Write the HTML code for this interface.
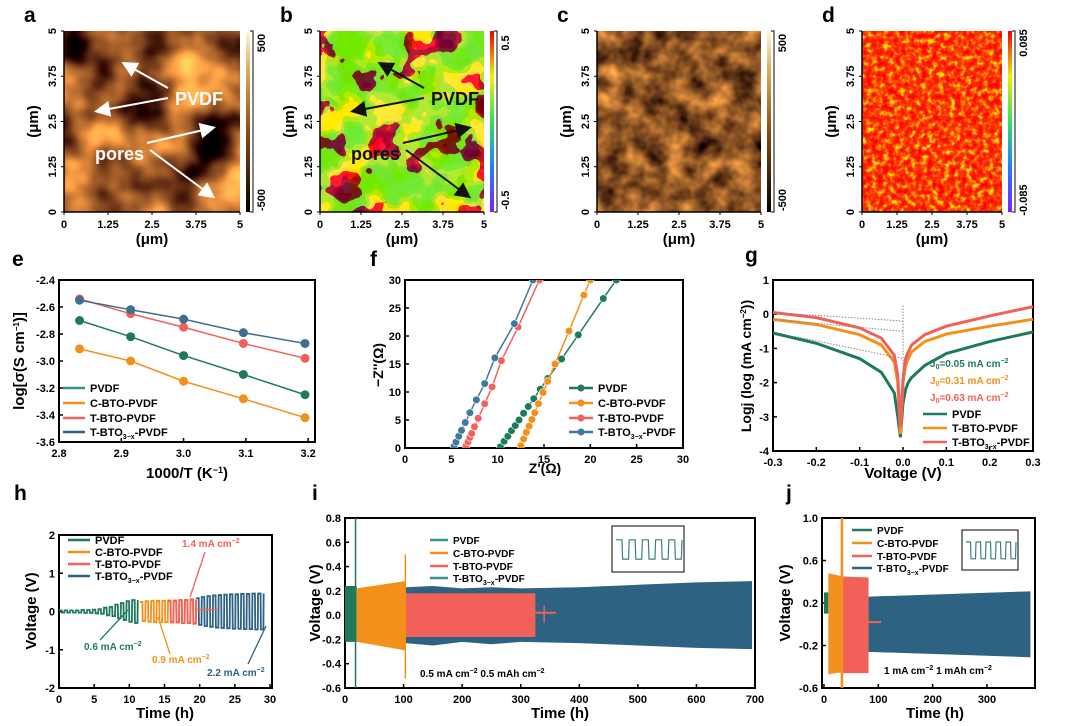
<!DOCTYPE html>
<html><head><meta charset="utf-8"><style>
html,body{margin:0;padding:0;background:#fff}
svg{display:block;font-family:"Liberation Sans",Arial,sans-serif;font-weight:bold}
filter{color-interpolation-filters:sRGB}
</style></head><body>
<svg id="fig" width="1080" height="726" viewBox="0 0 1080 726" xmlns="http://www.w3.org/2000/svg">
<defs>
<linearGradient id="brownBar" x1="0" y1="1" x2="0" y2="0"><stop offset="0" stop-color="#000"/><stop offset="0.45" stop-color="#8a4f10"/><stop offset="0.8" stop-color="#e0b060"/><stop offset="1" stop-color="#fff8e0"/></linearGradient>
<linearGradient id="rainbowBar" x1="0" y1="1" x2="0" y2="0"><stop offset="0" stop-color="#8020ff"/><stop offset="0.25" stop-color="#2080ff"/><stop offset="0.5" stop-color="#30e060"/><stop offset="0.75" stop-color="#f0f000"/><stop offset="1" stop-color="#f00000"/></linearGradient>
<filter id="fa" color-interpolation-filters="sRGB" filterUnits="userSpaceOnUse" x="64" y="31" width="176" height="181"><feTurbulence type="fractalNoise" baseFrequency="0.018" numOctaves="3" seed="3"/><feColorMatrix type="matrix" values="2.2 0 0 0 -0.55  1.6 0 0 0 -0.5  0.7 0 0 0 -0.22  0 0 0 0 1"/></filter>
<filter id="fb" color-interpolation-filters="sRGB" filterUnits="userSpaceOnUse" x="320" y="31" width="164" height="181"><feTurbulence type="fractalNoise" baseFrequency="0.03" numOctaves="3" seed="7"/><feComponentTransfer><feFuncR type="discrete" tableValues="1 1 1 1 0.7 0.5 0.45 0.45 0.45 0.45"/><feFuncG type="discrete" tableValues="0 0 0 0.1 0.9 0.92 0.92 0.92 0.92 0.92"/><feFuncB type="discrete" tableValues="0 0 0 0 0.1 0.2 0.2 0.2 0.2 0.2"/><feFuncA type="discrete" tableValues="1"/></feComponentTransfer></filter>
<filter id="fc" color-interpolation-filters="sRGB" filterUnits="userSpaceOnUse" x="597" y="31" width="164" height="181"><feTurbulence type="fractalNoise" baseFrequency="0.045" numOctaves="3" seed="5"/><feColorMatrix type="matrix" values="1.3 0 0 0 -0.1  0.9 0 0 0 -0.12  0.4 0 0 0 -0.06  0 0 0 0 1"/></filter>
<filter id="fd" color-interpolation-filters="sRGB" filterUnits="userSpaceOnUse" x="862" y="31" width="140" height="181"><feTurbulence type="fractalNoise" baseFrequency="0.18" numOctaves="2" seed="9"/><feComponentTransfer><feFuncR type="discrete" tableValues="0.95 1 1 1 1 1 1 0.95 0.8 0.7"/><feFuncG type="discrete" tableValues="0 0 0 0.08 0.15 0.3 0.55 0.85 0.9 0.9"/><feFuncB type="discrete" tableValues="0 0 0 0 0 0 0.05 0.1 0.2 0.2"/><feFuncA type="discrete" tableValues="1"/></feComponentTransfer></filter>
<marker id="arW" markerWidth="8" markerHeight="8" refX="6" refY="4" orient="auto"><path d="M0,0 L8,4 L0,8 z" fill="#fff"/></marker>
<marker id="arK" markerWidth="8" markerHeight="8" refX="6" refY="4" orient="auto"><path d="M0,0 L8,4 L0,8 z" fill="#111"/></marker>
</defs>
</svg>
<script>
// ---------- data ----------
const eX=[2.833,2.915,3.0,3.096,3.195];
const ePVDF=[-2.70,-2.82,-2.96,-3.10,-3.25];
const eCBTO=[-2.91,-3.00,-3.15,-3.28,-3.42];
const eTBTO=[-2.54,-2.65,-2.75,-2.87,-2.98];
const eTBTOx=[-2.55,-2.62,-2.69,-2.79,-2.87];
const fPVDFx=[10.3,10.7,11.1,11.5,11.9,12.3,12.8,13.3,13.9,14.6,15.4,16.9,18.7,21.4,22.8];
const fPVDFy=[0.2,1.2,2.1,3.1,4.0,5.0,6.2,7.4,8.8,10.5,12.4,15.9,20.2,26.7,30];
const fCBTOx=[12.5,12.8,13.1,13.4,13.7,14.0,14.4,14.9,15.4,16.2,17.7,19.3,20.0];
const fCBTOy=[0.4,1.6,2.8,3.9,5.1,6.3,7.9,9.9,11.9,15.0,20.9,27.3,30];
const fTBTOx=[6.6,6.8,7.0,7.2,7.5,7.9,8.6,9.4,10.4,12.2,14.5];
const fTBTOy=[0.4,1.1,1.9,2.6,3.8,5.3,7.9,10.9,15.6,21.6,30];
const fTBTOxx=[5.3,5.5,5.8,6.1,6.5,7.0,7.7,8.6,9.7,11.8,13.8];
const fTBTOxy=[0.35,1.05,2.1,3.15,4.55,6.3,8.6,11.5,16.1,22.2,30];
const gV=[-0.3,-0.2,-0.1,-0.05,-0.02,-0.012,-0.006,0,0.006,0.012,0.02,0.05,0.1,0.2,0.3];
const gPVDF=[-0.55,-0.85,-1.3,-1.7,-2.3,-3.0,-3.6,-2.6,-2.2,-2.0,-1.85,-1.5,-1.15,-0.8,-0.52];
const gTBTO=[-0.15,-0.3,-0.6,-0.9,-1.4,-2.0,-3.5,-2.0,-1.5,-1.3,-1.1,-0.8,-0.58,-0.35,-0.15];
const gTBTOx=[0.05,-0.1,-0.4,-0.7,-1.2,-1.8,-3.3,-1.9,-1.3,-1.1,-0.9,-0.6,-0.35,-0.05,0.22];
const hPeriod=0.8;
const hPVDFstart=0, hCBTOstart=11.5, hTBTOstart=15.5, hTBTOxstart=19.5;
const hPVDF=[0.03,0.03,0.03,0.03,0.04,0.04,0.05,0.06,0.1,0.12,0.18,0.22,0.27,0.3];
const hCBTO=[0.25,0.27,0.28,0.28,0.28,0.29,0.29,0.3,0.3,0.3];
const hTBTO=[0.27,0.28,0.3,0.3,0.32];
const hTBTOx=[0.35,0.38,0.4,0.42,0.43,0.44,0.45,0.45,0.46,0.46,0.47,0.47];
const iGreenT=[0,20], iGreenUp=[0.24,0.24], iGreenLo=[-0.22,-0.22];
const iOrangeT=[20,103], iOrangeUp=[0.22,0.28], iOrangeLo=[-0.22,-0.29];
const iBlueT=[103,150,200,250,300,400,500,600,695], iBlueUp=[0.23,0.24,0.22,0.23,0.22,0.23,0.25,0.27,0.28], iBlueLo=[-0.23,-0.25,-0.22,-0.24,-0.22,-0.23,-0.25,-0.27,-0.28];
const iRedT=[103,325], iRedUp=[0.18,0.18], iRedLo=[-0.18,-0.18];
const iSpikes=[[18,0.8,-0.6],[103,0.5,-0.52]];
const jGreenT=[0,8], jGreenUp=[0.3,0.3], jGreenLo=[0.1,0.1];
const jOrangeT=[8,35], jOrangeUp=[0.48,0.45], jOrangeLo=[-0.47,-0.45];
const jRedT=[35,82], jRedUp=[0.45,0.44], jRedLo=[-0.46,-0.46];
const jBlueT=[82,380], jBlueUp=[0.26,0.31], jBlueLo=[-0.26,-0.31];
const C={g:'#1f7a5c',o:'#f39019',r:'#f2605a',b:'#2e6283',gl:'#3f8f8f'};
// ---------- helpers ----------
const NS='http://www.w3.org/2000/svg';const svg=document.getElementById('fig');
function mk(tag,at,par){const e=document.createElementNS(NS,tag);for(const k in at)e.setAttribute(k,at[k]);(par||svg).appendChild(e);return e;}
function txt(s,x,y,sz,at){const e=mk('text',Object.assign({x:x,y:y,'font-size':sz},at||{}));e.innerHTML=s;return e;}
function lin(d0,d1,r0,r1){return v=>r0+(v-d0)*(r1-r0)/(d1-d0);}
function axes(P,xt,yt,xl,yl,name){
  const b=mk('rect',{x:P.x0,y:P.y0,width:P.x1-P.x0,height:P.y1-P.y0,fill:'none',stroke:'#000','stroke-width':2});
  
  
  xt.forEach((v,i)=>{const X=P.sx(v);mk('line',{x1:X,x2:X,y1:P.y1,y2:P.y1-4,stroke:'#000','stroke-width':1.5});
    const t=txt(xl[i],X,P.y1+15,11,{'text-anchor':'middle'});
    
    });
  yt.forEach((v,i)=>{const Y=P.sy(v);mk('line',{x1:P.x0,x2:P.x0+4,y1:Y,y2:Y,stroke:'#000','stroke-width':1.5});
    const t=txt(yl[i],P.x0-4,Y+4,11,{'text-anchor':'end'});
    
    });
}
function clip(id,P){const cp=mk('clipPath',{id:id});mk('rect',{x:P.x0,y:P.y0,width:P.x1-P.x0,height:P.y1-P.y0},cp);return 'url(#'+id+')';}
function poly(xs,ys,P,col,w,par,extra){return mk('polyline',Object.assign({points:xs.map((x,i)=>P.sx(x)+','+P.sy(ys[i])).join(' '),fill:'none',stroke:col,'stroke-width':w},extra||{}),par);}
function band(ts,up,lo,P,col,par){const pts=ts.map((t,i)=>P.sx(t)+','+P.sy(up[i])).concat(ts.map((t,i)=>P.sx(t)+','+P.sy(lo[i])).reverse());return mk('polygon',{points:pts.join(' '),fill:col},par);}
function legend(items,x,ys,len,sz,withDot){items.forEach((it,i)=>{const y=ys[i];
  const l=mk('line',{x1:x,x2:x+len,y1:y,y2:y,stroke:it[1],'stroke-width':2.5});
  
  
  if(withDot)mk('circle',{cx:x+len/2,cy:y,r:3.5,fill:it[1]});
  const t=txt(it[0],x+len+5,y+4,sz);
  
  });}
function rotTxt(s,x,y,sz,name){const t=txt(s,x,y,sz,{'text-anchor':'middle',transform:'rotate(-90 '+x+' '+y+')'});return t;}
function label(s,x,y,name){const t=txt(s,x,y,21);}
const BTX='T-BTO<tspan font-size="7" dy="3">3−x</tspan><tspan dy="-3">-PVDF</tspan>';
// ---------- AFM panels ----------
const afm=[['a',64,176,'fa','brownBar','500','-500'],['b',320,164,'fb','rainbowBar','0.5','-0.5'],['c',597,164,'fc','brownBar','500','-500'],['d',862,140,'fd','rainbowBar','0.085','-0.085']];
afm.forEach((p,k)=>{const x0=p[1],w=p[2],y0=31,h=181;
  const im=mk('rect',{x:x0,y:y0,width:w,height:h,fill:'#888',filter:'url(#'+p[3]+')'});
  
  
  const cb=mk('rect',{x:x0+w+6,y:y0,width:4,height:h,fill:'url(#'+p[4]+')'});
  
  
  mk('path',{d:'M'+(x0+w+10)+','+y0+' h3 v'+h+' h-3',fill:'none',stroke:'#333','stroke-width':1.2});
  rotTxt(p[5],x0+w+25,y0+12,11,'colorbar-max');rotTxt(p[6],x0+w+25,y0+h-12,11,'colorbar-min');
  const sx=lin(0,5,x0,x0+w),sy=lin(0,5,y0+h,y0);
  ['0','1.25','2.5','3.75','5'].forEach((s,i)=>{const v=i*1.25;
    mk('line',{x1:sx(v),x2:sx(v),y1:y0+h,y2:y0+h+3,stroke:'#000'});
    const t=txt(s,sx(v),y0+h+16,11,{'text-anchor':'middle'});
    mk('line',{x1:x0-3,x2:x0,y1:sy(v),y2:sy(v),stroke:'#000'});
    rotTxt(s,x0-8,sy(v),11,'afm-y-tick');});
  mk('line',{x1:x0,x2:x0+w,y1:y0+h,y2:y0+h,stroke:'#000','stroke-width':1.5});
  mk('line',{x1:x0,x2:x0,y1:y0,y2:y0+h,stroke:'#000','stroke-width':1.5});
  const xt=txt('(μm)',x0+w/2,y0+h+32,15,{'text-anchor':'middle'});
  rotTxt('(μm)',x0-26,y0+h/2,15,'afm-y-title');
  label(p[0],x0-40,22,'panel-label-'+p[0]);
});
// annotations on a and b
[['#fff','arW',64],['#111','arK',320]].forEach((q,k)=>{const o=q[2]-64;const col=q[0];
  const t1=txt('PVDF',o+175,105,18,{fill:col});
  const t2=txt('pores',o+95,160,18,{fill:col});
  [[o+168,88,o+125,64],[o+168,98,o+98,111],[o+147,143,o+212,128],[o+150,150,o+212,196]].forEach(a=>mk('line',{x1:a[0],y1:a[1],x2:a[2],y2:a[3],stroke:col,'stroke-width':2,'marker-end':'url(#'+q[1]+')'}));});
// ---------- panel e ----------
{const P={x0:59,x1:315,y0:280,y1:442};P.sx=lin(2.8,3.211,59,315);P.sy=lin(-2.4,-3.6,280,442);
 axes(P,[2.8,2.9,3.0,3.1,3.2],[-2.4,-2.6,-2.8,-3.0,-3.2,-3.4,-3.6],['2.8','2.9','3.0','3.1','3.2'],['-2.4','-2.6','-2.8','-3.0','-3.2','-3.4','-3.6'],'panel-e');
 [[ePVDF,C.g],[eCBTO,C.o],[eTBTO,C.r],[eTBTOx,'#3f6f90']].forEach((s,k)=>{
   const l=poly(eX,s[0],P,s[1],1.5);
   eX.forEach((x,i)=>{const c=mk('circle',{cx:P.sx(x),cy:P.sy(s[0][i]),r:4.5,fill:s[1]});});});
 legend([['PVDF',C.gl],['C-BTO-PVDF',C.o],['T-BTO-PVDF',C.r],[BTX,C.b]],63,[388,403,418,432],22,11,false);
 rotTxt('log[σ(S cm<tspan font-size="8" dy="-5">−1</tspan><tspan dy="5">)]</tspan>',24,361,15,'y-axis-title-e');
 const xt=txt('1000/T (K<tspan font-size="9" dy="-5">−1</tspan><tspan dy="5">)</tspan>',187,478,15,{'text-anchor':'middle'});
 label('e',12,266,'panel-label-e');}
// ---------- panel f ----------
{const P={x0:405,x1:683,y0:280,y1:448};P.sx=lin(0,30,405,683);P.sy=lin(0,30,448,280);
 axes(P,[0,5,10,15,20,25,30],[0,5,10,15,20,25,30],['0','5','10','15','20','25','30'],['0','5','10','15','20','25','30'],'panel-f');
 const g=mk('g',{'clip-path':clip('cf',P)});
 [[fPVDFx,fPVDFy,C.g],[fCBTOx,fCBTOy,C.o],[fTBTOx,fTBTOy,C.r],[fTBTOxx,fTBTOxy,'#3f78a0']].forEach(s=>{
   const l=poly(s[0],s[1],P,s[2],1.5,g);
   s[0].forEach((x,i)=>{const c=mk('circle',{cx:P.sx(x),cy:P.sy(s[1][i]),r:3.8,fill:s[2],stroke:'#fff','stroke-width':0.6},g);});});
 legend([['PVDF',C.g],['C-BTO-PVDF',C.o],['T-BTO-PVDF',C.r],[BTX,'#3f78a0']],569,[388,403,418,432],24,11,true);
 rotTxt('−Z\'\'(Ω)',383,365,14,'y-axis-title-f');
 const xt=txt('Z\'(Ω)',545,473,14,{'text-anchor':'middle'});
 label('f',370,266,'panel-label-f');}
// ---------- panel g ----------
{const P={x0:773,x1:1033,y0:280,y1:451};P.sx=lin(-0.3,0.3,773,1033);P.sy=lin(1,-4,280,451);
 axes(P,[-0.3,-0.2,-0.1,0,0.1,0.2,0.3],[1,0,-1,-2,-3,-4],['-0.3','-0.2','-0.1','0.0','0.1','0.2','0.3'],['1','0','-1','-2','-3','-4'],'panel-g');
 [[gPVDF,C.g],[gTBTO,C.o],[gTBTOx,C.r]].forEach(s=>{const l=poly(gV,s[0],P,s[1],3);});
 [[-0.25,-0.65,-1.3],[-0.3,-0.15,-0.5],[-0.3,0.05,-0.2]].forEach(t=>mk('line',{x1:P.sx(t[0]),y1:P.sy(t[1]),x2:P.sx(0),y2:P.sy(t[2]),stroke:'#888','stroke-dasharray':'1.5,1.5'}));
 mk('line',{x1:P.sx(0),x2:P.sx(0),y1:P.sy(0.25),y2:P.sy(-2.2),stroke:'#888','stroke-dasharray':'1.5,1.5'});
 [['J<tspan font-size="7" dy="2">0</tspan><tspan dy="-2">=0.05 mA cm</tspan><tspan font-size="7" dy="-4">−2</tspan>',C.g,367],['J<tspan font-size="7" dy="2">0</tspan><tspan dy="-2">=0.31 mA cm</tspan><tspan font-size="7" dy="-4">−2</tspan>',C.o,384],['J<tspan font-size="7" dy="2">0</tspan><tspan dy="-2">=0.63 mA cm</tspan><tspan font-size="7" dy="-4">−2</tspan>',C.r,401]].forEach(a=>{const t=txt(a[0],930,a[2],10,{fill:a[1]});});
 legend([['PVDF',C.g],['T-BTO-PVDF',C.o],[BTX,C.r]],923,[414,428,442],24,11,false);
 rotTxt('Logj (log (mA cm<tspan font-size="8" dy="-5">−2</tspan><tspan dy="5">))</tspan>',751,366,14,'y-axis-title-g');
 const xt=txt('Voltage (V)',903,478,15,{'text-anchor':'middle'});
 label('g',745,262,'panel-label-g');}
// ---------- panel h ----------
function square(start,amps,P,col,par){let d='';amps.forEach((a,i)=>{const t=start+i*hPeriod;
  d+=(i?'L':'M')+P.sx(t)+','+P.sy(a)+' L'+P.sx(t+hPeriod*0.45)+','+P.sy(a)+' L'+P.sx(t+hPeriod*0.5)+','+P.sy(-a)+' L'+P.sx(t+hPeriod*0.95)+','+P.sy(-a)+' L'+P.sx(t+hPeriod)+','+P.sy(a);});
  return mk('path',{d:d,fill:'none',stroke:col,'stroke-width':1.8},par);}
{const P={x0:59,x1:272,y0:535,y1:688};P.sx=lin(0,30,59,270);P.sy=lin(2,-2,535,688);
 axes(P,[0,5,10,15,20,25,30],[2,1,0,-1,-2],['0','5','10','15','20','25','30'],['2','1','0','-1','-2'],'panel-h');
 [[hPVDFstart,hPVDF,C.g],[hCBTOstart,hCBTO,C.o],[hTBTOstart,hTBTO,C.r],[hTBTOxstart,hTBTOx,C.b]].forEach(s=>{const p=square(s[0],s[1],P,s[2]);});
 mk('line',{x1:P.sx(19.5),x2:P.sx(22.5),y1:P.sy(0.05),y2:P.sy(0.05),stroke:C.r,'stroke-width':1.5});
 legend([['PVDF',C.g],['C-BTO-PVDF',C.o],['T-BTO-PVDF',C.r],[BTX,C.b]],68,[540,552,564,576],22,11,false);
 [['1.4 mA cm<tspan font-size="7" dy="-4">−2</tspan>',C.r,182,547,[205,552,190,597]],['0.6 mA cm<tspan font-size="7" dy="-4">−2</tspan>',C.g,84,650,[100,640,128,610]],['0.9 mA cm<tspan font-size="7" dy="-4">−2</tspan>',C.o,152,663,[170,654,158,617]],['2.2 mA cm<tspan font-size="7" dy="-4">−2</tspan>',C.b,207,676,[248,664,266,626]]].forEach(a=>{
   const t=txt(a[0],a[2],a[3],10,{fill:a[1]});
   mk('line',{x1:a[4][0],y1:a[4][1],x2:a[4][2],y2:a[4][3],stroke:a[1],'stroke-width':1.3});});
 rotTxt('Voltage (V)',36,611,15,'y-axis-title-h');
 const xt=txt('Time (h)',165,718,15,{'text-anchor':'middle'});
 label('h',14,500,'panel-label-h');}
// ---------- panel i ----------
function inset(x0,y0,w,h,n,col){mk('rect',{x:x0,y:y0,width:w,height:h,fill:'#fff',stroke:'#000','stroke-width':1});
  const s=lin(0,n,x0+4,x0+w-2);let d='';for(let i=0;i<n;i++){d+=(i?'L':'M')+s(i)+','+(y0+h*0.3)+' L'+s(i+0.45)+','+(y0+h*0.3)+' L'+s(i+0.5)+','+(y0+h*0.72)+' L'+s(i+0.95)+','+(y0+h*0.72)+' L'+s(i+1)+','+(y0+h*0.3);}
  const p=mk('path',{d:d,fill:'none',stroke:col,'stroke-width':1.2});}
{const P={x0:345,x1:755,y0:518,y1:688};P.sx=lin(0,700,345,755);P.sy=lin(0.8,-0.6,518,688);
 axes(P,[0,100,200,300,400,500,600,700],[0.8,0.6,0.4,0.2,0,-0.2,-0.4,-0.6],['0','100','200','300','400','500','600','700'],['0.8','0.6','0.4','0.2','0.0','-0.2','-0.4','-0.6'],'panel-i');
 const g=mk('g',{'clip-path':clip('ci',P)});
 [[iBlueT,iBlueUp,iBlueLo,C.b],[iGreenT,iGreenUp,iGreenLo,C.g],[iOrangeT,iOrangeUp,iOrangeLo,C.o],[iRedT,iRedUp,iRedLo,C.r]].forEach(s=>{const b=band(s[0],s[1],s[2],P,s[3],g);});
 iSpikes.forEach((s,k)=>mk('line',{x1:P.sx(s[0]),x2:P.sx(s[0]),y1:P.sy(s[1]),y2:P.sy(s[2]),stroke:k?C.o:C.g,'stroke-width':1.5},g));
 mk('line',{x1:P.sx(325),x2:P.sx(360),y1:P.sy(0.02),y2:P.sy(0.02),stroke:C.r,'stroke-width':2},g);
 mk('line',{x1:P.sx(340),x2:P.sx(340),y1:P.sy(0.08),y2:P.sy(-0.06),stroke:C.r,'stroke-width':1.5},g);
 inset(612,526,72,46,5,'#3f7f80');
 legend([['PVDF',C.gl],['C-BTO-PVDF',C.o],['T-BTO-PVDF',C.r],[BTX,C.gl]],430,[540,553,566,578],18,10,false);
 const n=txt('0.5 mA cm<tspan font-size="7" dy="-4">−2</tspan><tspan dy="4"> 0.5 mAh cm</tspan><tspan font-size="7" dy="-4">−2</tspan>',420,677,10);
 rotTxt('Voltage (V)',320,603,15,'y-axis-title-i');
 const xt=txt('Time (h)',560,718,15,{'text-anchor':'middle'});
 label('i',312,500,'panel-label-i');}
// ---------- panel j ----------
{const P={x0:822,x1:1035,y0:518,y1:688};P.sx=lin(0,300,824,987);P.sy=lin(1,-0.6,518,688);
 axes(P,[0,100,200,300],[1,0.6,0.2,-0.2,-0.6],['0','100','200','300'],['1.0','0.6','0.2','-0.2','-0.6'],'panel-j');
 const g=mk('g',{'clip-path':clip('cj',P)});
 [[jBlueT,jBlueUp,jBlueLo,C.b],[jGreenT,jGreenUp,jGreenLo,C.g],[jOrangeT,jOrangeUp,jOrangeLo,C.o],[jRedT,jRedUp,jRedLo,C.r]].forEach(s=>{const b=band(s[0],s[1],s[2],P,s[3],g);});
 mk('line',{x1:P.sx(33),x2:P.sx(33),y1:P.sy(1),y2:P.sy(-0.6),stroke:C.o,'stroke-width':2.5},g);
 mk('line',{x1:P.sx(82),x2:P.sx(105),y1:P.sy(0.02),y2:P.sy(0.02),stroke:C.r,'stroke-width':2},g);
 inset(962,530,56,40,5,'#3f7f80');
 legend([['PVDF',C.g],['C-BTO-PVDF',C.o],['T-BTO-PVDF',C.r],[BTX,C.b]],852,[530,543,556,568],20,10,false);
 const n=txt('1 mA cm<tspan font-size="7" dy="-4">−2</tspan><tspan dy="4">  1 mAh cm</tspan><tspan font-size="7" dy="-4">−2</tspan>',884,674,10);
 rotTxt('Voltage (V)',790,603,15,'y-axis-title-j');
 const xt=txt('Time (h)',935,718,15,{'text-anchor':'middle'});
 label('j',786,500,'panel-label-j');}
</script>
</body></html>
